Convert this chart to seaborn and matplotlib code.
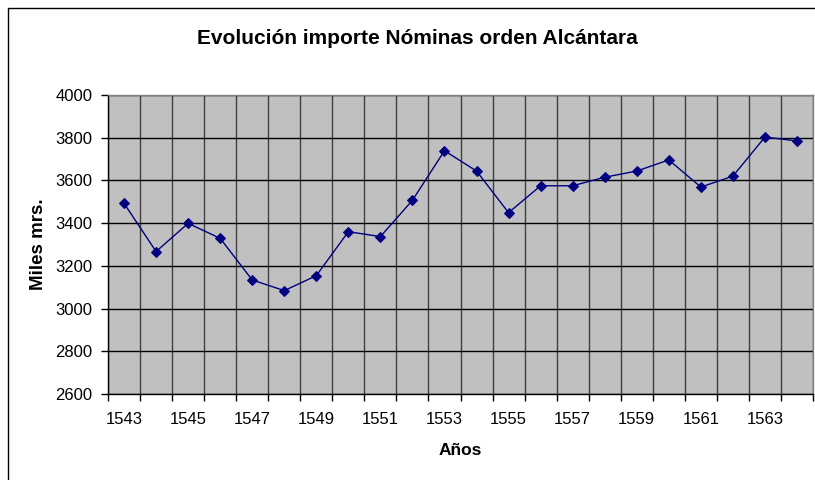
import numpy as np
import pandas as pd
import matplotlib
matplotlib.use("Agg")
import matplotlib.pyplot as plt
from matplotlib.patches import Rectangle
import seaborn as sns

# values
years = list(range(1543, 1565))
miles = [3493, 3267, 3399, 3329, 3134, 3084, 3154, 3360, 3337, 3507, 3739,
         3644, 3449, 3575, 3575, 3615, 3644, 3696, 3569, 3620, 3803, 3785]
year_labels = [1543, 1545, 1547, 1549, 1551, 1553, 1555, 1557, 1559, 1561, 1563]
y_ticks = [2600, 2800, 3000, 3200, 3400, 3600, 3800, 4000]

df = pd.DataFrame({'Años': years, 'Miles mrs.': miles})

sns.set_style("white")
plt.rcParams['font.family'] = ['Liberation Sans', 'DejaVu Sans']
plt.rcParams['text.color'] = 'black'
plt.rcParams['axes.labelcolor'] = 'black'
plt.rcParams['xtick.color'] = 'black'
plt.rcParams['ytick.color'] = 'black'

fig = plt.figure(figsize=(8.15, 4.8), dpi=100)
ax = fig.add_axes([108/815, 1 - 394/480, 705/815, 299/480])
ax.set_facecolor('#C0C0C0')

sns.lineplot(data=df, x='Años', y='Miles mrs.', ax=ax, color='#000080',
             linewidth=1.0, marker='D', markersize=5.5,
             markeredgecolor='#000080', markerfacecolor='#000080', zorder=3)

ax.set_xlim(years[0] - 0.5, years[-1] + 0.5)
ax.set_ylim(2600, 4000)

# category boundaries -> minor ticks + vertical grid
ax.set_xticks(np.arange(years[0] - 0.5, years[-1] + 1, 1), minor=True)
ax.set_xticks(year_labels)
ax.set_xticklabels([str(y) for y in year_labels])
ax.tick_params(axis='x', which='major', length=0, pad=13, labelsize=12)
ax.tick_params(axis='x', which='minor', length=5, width=1, color='black',
               direction='out', bottom=True)
ax.set_yticks(y_ticks)
ax.tick_params(axis='y', which='major', length=5, width=1, color='black',
               direction='out', left=True, pad=6, labelsize=12)

ax.grid(False)
ax.grid(True, axis='x', which='minor', color='#404040', linewidth=1.0)
ax.grid(True, axis='y', which='major', color='black', linewidth=1.0)
ax.set_axisbelow(True)

for s in ['left', 'bottom']:
    ax.spines[s].set_color('black')
    ax.spines[s].set_linewidth(1.0)
for s in ['top', 'right']:
    ax.spines[s].set_color('#808080')
    ax.spines[s].set_linewidth(1.0)

ax.set_xlabel('Años', fontsize=12.5, fontweight='bold', va='top')
ax.xaxis.set_label_coords(0.5, (394 - 443) / 299)
ax.set_ylabel('Miles mrs.', fontsize=13.5, fontweight='bold', va='center')
ax.yaxis.set_label_coords((38 - 108) / 705, 0.5)

fig.suptitle('Evolución importe Nóminas orden Alcántara', x=417/815,
             y=1 - 39/480, va='center', fontsize=15, fontweight='bold')

# chart area border
fig.patches.append(Rectangle((8/815, -0.1), 1.1, 1 - 8/480 + 0.1,
                             transform=fig.transFigure, fill=False,
                             edgecolor='black', linewidth=1.0))

fig.savefig('out.png', dpi=100)
